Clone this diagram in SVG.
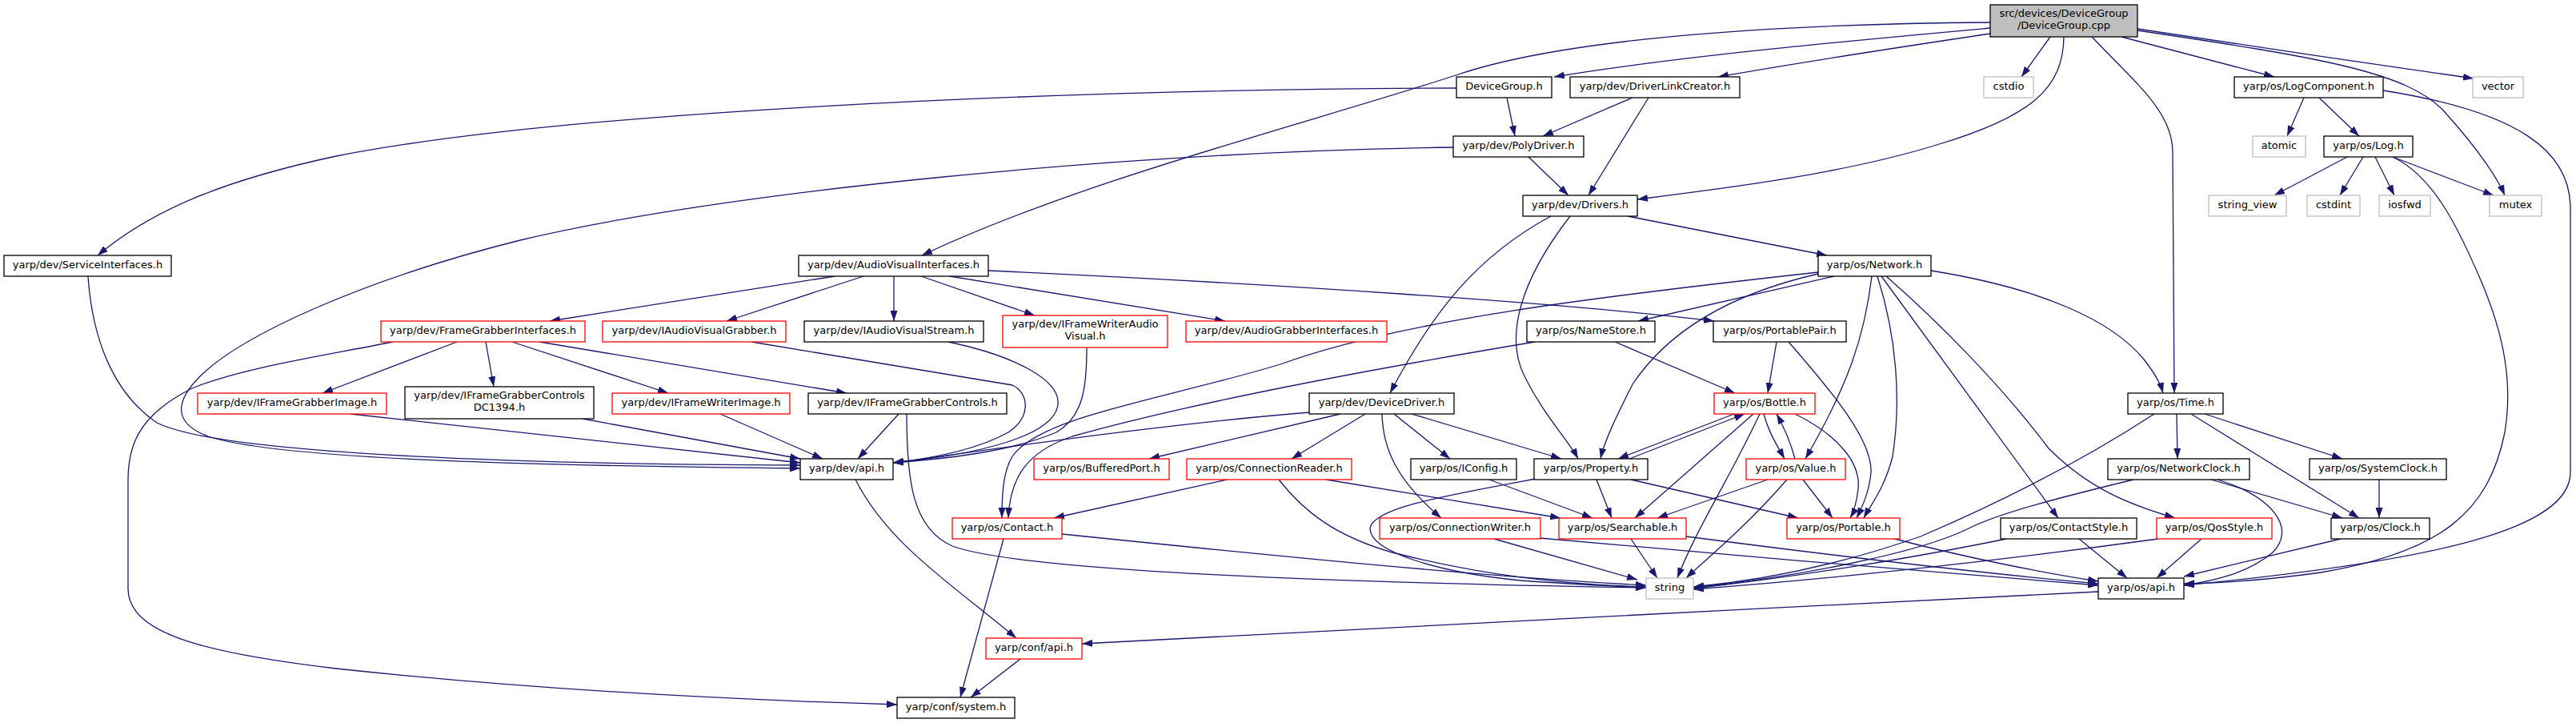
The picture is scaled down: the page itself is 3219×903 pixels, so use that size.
<svg xmlns="http://www.w3.org/2000/svg" width="3219" height="903" viewBox="0 0 3219 903">
<style>
.n rect{fill:#fff;stroke:#000;stroke-width:1.3}
.n.r rect{stroke:#ff0000}
.n.g rect{stroke:#bfbfbf}
.n.root rect{fill:#bfbfbf}
text{font-family:"DejaVu Sans","Liberation Sans",sans-serif;font-size:13px;text-anchor:middle;fill:#000}
#edges path{fill:none;stroke:#191970;stroke-width:1.3;marker-end:url(#a)}
</style>
<defs>
<marker id="a" viewBox="0 0 13 9" refX="13" refY="4.5" markerWidth="13" markerHeight="9" markerUnits="userSpaceOnUse" orient="auto"><path d="M0,0L13,4.5L0,9z" fill="#191970"/></marker>
</defs>
<rect width="3219" height="903" fill="#fff"/>
<g id="edges">
<path d="M2487,35 C2300,52 2100,70 1942,96"/>
<path d="M2487,42 C2380,58 2260,76 2147,96"/>
<path d="M2487,28 C2200,30 1950,50 1822,93 C1650,150 1350,225 1152,319"/>
<path d="M2562,46 L2526,96"/>
<path d="M2651,46 L2842,96"/>
<path d="M2671,36 C2800,55 2960,80 3091,98"/>
<path d="M2671,38 C2900,72 3010,90 3055,140 C3100,190 3122,225 3130,244"/>
<path d="M2579,46 C2578,110 2540,145 2420,181 C2300,218 2150,236 2046,249"/>
<path d="M2614,46 C2670,105 2715,140 2715,190 L2717,491"/>
<path d="M1820,110 C1300,112 700,140 420,195 C280,225 190,262 122,319"/>
<path d="M1883,122 L1893,170"/>
<path d="M2040,122 L1928,170"/>
<path d="M2060,122 L1985,244"/>
<path d="M1910,196 L1960,244"/>
<path d="M1816,184 C1400,190 900,240 650,300 C450,350 300,420 250,470 C215,505 220,530 260,545 C350,575 700,582 1000,585"/>
<path d="M110,345 C115,420 140,490 196,528 C280,570 700,580 1000,581"/>
<path d="M2034,270 L2283,319"/>
<path d="M1938,270 C1845,320 1790,390 1737,491"/>
<path d="M1962,270 C1900,350 1880,420 1905,470 C1930,520 1960,550 1972,573"/>
<path d="M1043,345 L687,401"/>
<path d="M1079,345 L908,401"/>
<path d="M1117,345 L1117,401"/>
<path d="M1151,345 L1293,394"/>
<path d="M1187,345 L1531,401"/>
<path d="M1235,338 C1600,355 1950,378 2142,401"/>
<path d="M2272,340 C2000,370 1750,400 1600,455 C1450,500 1300,520 1265,570 C1253,590 1252,620 1252,647"/>
<path d="M2292,345 L2047,401"/>
<path d="M2272,342 C2150,370 2080,420 2040,480 C2020,520 2005,550 2000,573"/>
<path d="M2339,345 C2330,420 2310,480 2256,573"/>
<path d="M2346,345 C2370,420 2376,500 2365,570 C2355,610 2338,630 2329,647"/>
<path d="M2351,345 L2572,647"/>
<path d="M2357,345 C2420,400 2500,480 2560,560 C2610,610 2660,630 2718,647"/>
<path d="M2413,338 C2550,360 2640,400 2680,450 C2695,470 2700,480 2703,491"/>
<path d="M1637,515 C1450,530 1250,560 1116,578"/>
<path d="M1675,517 L1436,573"/>
<path d="M1706,517 L1614,573"/>
<path d="M1727,517 C1728,560 1745,600 1801,647"/>
<path d="M1742,517 L1812,573"/>
<path d="M1764,517 L1951,573"/>
<path d="M1533,599 L1317,647"/>
<path d="M1657,599 L1950,647"/>
<path d="M1598,599 C1630,640 1670,670 1740,690 C1850,718 1950,730 2057,733"/>
<path d="M1919,598 C1800,620 1715,635 1712,660 C1712,690 1800,715 1900,725 C1970,730 2020,732 2057,734"/>
<path d="M1995,599 L2014,647"/>
<path d="M2038,599 L2247,647"/>
<path d="M2036,573 L2180,517"/>
<path d="M2167,517 L2022,573"/>
<path d="M1861,599 L1990,647"/>
<path d="M2191,517 L2043,647"/>
<path d="M2199,517 C2160,600 2120,660 2096,722"/>
<path d="M2204,517 C2210,540 2220,555 2230,573"/>
<path d="M2243,573 C2237,550 2230,535 2220,517"/>
<path d="M2243,517 C2300,545 2325,580 2322,610 C2320,630 2316,640 2312,647"/>
<path d="M2220,427 L2209,491"/>
<path d="M2235,427 C2290,490 2340,550 2338,590 C2336,615 2326,635 2320,647"/>
<path d="M2018,427 L2168,491"/>
<path d="M1918,427 C1750,455 1500,500 1340,545 C1280,565 1262,600 1260,647"/>
<path d="M2209,599 L2071,647"/>
<path d="M2233,599 C2180,660 2130,700 2107,722"/>
<path d="M2253,599 L2290,647"/>
<path d="M2038,673 L2071,722"/>
<path d="M2107,670 C2300,695 2500,718 2622,729"/>
<path d="M2364,672 C2450,695 2550,715 2622,726"/>
<path d="M1867,673 L2046,724"/>
<path d="M1924,672 C2150,692 2400,714 2622,731"/>
<path d="M1327,667 C1600,695 1850,720 2057,731"/>
<path d="M1254,673 L1200,871"/>
<path d="M1275,823 L1213,871"/>
<path d="M2622,739 C2200,760 1700,785 1352,804"/>
<path d="M1069,599 C1110,680 1190,730 1270,797"/>
<path d="M571,427 L403,491"/>
<path d="M607,427 L617,483"/>
<path d="M640,427 L835,491"/>
<path d="M674,427 L1058,491"/>
<path d="M491,427 C400,445 300,460 240,485 C170,520 160,560 160,600 L160,735 C160,790 250,815 420,835 C700,865 950,875 1121,880"/>
<path d="M438,517 L1000,578"/>
<path d="M728,523 L1000,573"/>
<path d="M900,517 L1028,573"/>
<path d="M1123,517 L1072,573"/>
<path d="M1133,517 C1133,600 1140,660 1190,682 C1280,715 1700,728 2057,734"/>
<path d="M939,427 L1265,481 C1285,490 1290,520 1260,540 C1220,562 1160,573 1116,578"/>
<path d="M1185,427 C1270,445 1325,475 1322,505 C1318,545 1220,568 1116,578"/>
<path d="M1358,434 C1358,480 1355,520 1320,540 C1260,565 1180,573 1116,578"/>
<path d="M2692,517 C2580,590 2470,640 2400,670 C2300,705 2200,725 2116,733"/>
<path d="M2720,517 L2721,573"/>
<path d="M2738,517 L2948,647"/>
<path d="M2755,517 L2927,573"/>
<path d="M2666,599 C2580,620 2500,640 2460,660 C2400,690 2250,720 2116,734"/>
<path d="M2763,599 L2927,647"/>
<path d="M2771,599 C2840,620 2870,660 2840,690 C2810,715 2770,725 2729,731"/>
<path d="M2973,599 L2973,647"/>
<path d="M2507,673 C2400,695 2250,720 2116,735"/>
<path d="M2598,673 L2658,722"/>
<path d="M2697,673 C2500,700 2300,722 2116,736"/>
<path d="M2751,673 L2695,722"/>
<path d="M2925,673 L2729,720"/>
<path d="M2879,122 L2858,170"/>
<path d="M2898,122 L2948,170"/>
<path d="M2978,113 C3150,140 3212,190 3212,260 L3212,590 C3212,660 3050,700 2729,731"/>
<path d="M2990,196 C3040,220 3070,280 3100,350 C3130,420 3140,480 3130,540 C3110,640 3050,690 2900,715 C2830,725 2780,728 2729,729"/>
<path d="M2933,196 L2842,244"/>
<path d="M2953,196 L2924,244"/>
<path d="M2968,196 L2992,244"/>
<path d="M2990,196 L3116,244"/>
</g>
<g id="n_root" class="n root"><rect x="2487" y="6" width="184" height="40"/><text x="2579" y="21">src/devices/DeviceGroup</text><text x="2579" y="36">/DeviceGroup.cpp</text></g>
<g id="n_DeviceGroup_h" class="n"><rect x="1820" y="96" width="119" height="26"/><text x="1879.5" y="112">DeviceGroup.h</text></g>
<g id="n_DriverLinkCreator" class="n"><rect x="1962" y="96" width="212" height="26"/><text x="2068" y="112">yarp/dev/DriverLinkCreator.h</text></g>
<g id="n_cstdio" class="n g"><rect x="2479" y="96" width="62" height="26"/><text x="2510" y="112">cstdio</text></g>
<g id="n_LogComponent" class="n"><rect x="2792" y="96" width="186" height="26"/><text x="2885" y="112">yarp/os/LogComponent.h</text></g>
<g id="n_vector" class="n g"><rect x="3090" y="96" width="63" height="26"/><text x="3121.5" y="112">vector</text></g>
<g id="n_PolyDriver" class="n"><rect x="1816" y="170" width="163" height="26"/><text x="1897.5" y="186">yarp/dev/PolyDriver.h</text></g>
<g id="n_atomic" class="n g"><rect x="2815" y="170" width="66" height="26"/><text x="2848" y="186">atomic</text></g>
<g id="n_Log" class="n"><rect x="2904" y="170" width="111" height="26"/><text x="2959.5" y="186">yarp/os/Log.h</text></g>
<g id="n_Drivers" class="n"><rect x="1903" y="244" width="143" height="26"/><text x="1974.5" y="260">yarp/dev/Drivers.h</text></g>
<g id="n_string_view" class="n g"><rect x="2760" y="244" width="97" height="26"/><text x="2808.5" y="260">string_view</text></g>
<g id="n_cstdint" class="n g"><rect x="2883" y="244" width="66" height="26"/><text x="2916" y="260">cstdint</text></g>
<g id="n_iosfwd" class="n g"><rect x="2973" y="244" width="64" height="26"/><text x="3005" y="260">iosfwd</text></g>
<g id="n_mutex" class="n g"><rect x="3111" y="244" width="65" height="26"/><text x="3143.5" y="260">mutex</text></g>
<g id="n_ServiceInterfaces" class="n"><rect x="5" y="319" width="209" height="26"/><text x="109.5" y="335">yarp/dev/ServiceInterfaces.h</text></g>
<g id="n_AudioVisualInterfaces" class="n"><rect x="998" y="319" width="237" height="26"/><text x="1116.5" y="335">yarp/dev/AudioVisualInterfaces.h</text></g>
<g id="n_Network" class="n"><rect x="2272" y="319" width="141" height="26"/><text x="2342.5" y="335">yarp/os/Network.h</text></g>
<g id="n_FrameGrabberInterfaces" class="n r"><rect x="476" y="401" width="255" height="26"/><text x="603.5" y="417">yarp/dev/FrameGrabberInterfaces.h</text></g>
<g id="n_IAudioVisualGrabber" class="n r"><rect x="753" y="401" width="229" height="26"/><text x="867.5" y="417">yarp/dev/IAudioVisualGrabber.h</text></g>
<g id="n_IAudioVisualStream" class="n"><rect x="1005" y="401" width="224" height="26"/><text x="1117" y="417">yarp/dev/IAudioVisualStream.h</text></g>
<g id="n_IFrameWriterAudioVisual" class="n r"><rect x="1253" y="394" width="206" height="40"/><text x="1356" y="409">yarp/dev/IFrameWriterAudio</text><text x="1356" y="424">Visual.h</text></g>
<g id="n_AudioGrabberInterfaces" class="n r"><rect x="1482" y="401" width="251" height="26"/><text x="1607.5" y="417">yarp/dev/AudioGrabberInterfaces.h</text></g>
<g id="n_NameStore" class="n"><rect x="1908" y="401" width="160" height="26"/><text x="1988" y="417">yarp/os/NameStore.h</text></g>
<g id="n_PortablePair" class="n"><rect x="2141" y="401" width="166" height="26"/><text x="2224" y="417">yarp/os/PortablePair.h</text></g>
<g id="n_IFrameGrabberImage" class="n r"><rect x="247" y="491" width="236" height="26"/><text x="365" y="507">yarp/dev/IFrameGrabberImage.h</text></g>
<g id="n_IFrameGrabberControlsDC1394" class="n"><rect x="506" y="483" width="236" height="40"/><text x="624" y="498">yarp/dev/IFrameGrabberControls</text><text x="624" y="513">DC1394.h</text></g>
<g id="n_IFrameWriterImage" class="n r"><rect x="765" y="491" width="222" height="26"/><text x="876" y="507">yarp/dev/IFrameWriterImage.h</text></g>
<g id="n_IFrameGrabberControls" class="n"><rect x="1010" y="491" width="248" height="26"/><text x="1134" y="507">yarp/dev/IFrameGrabberControls.h</text></g>
<g id="n_DeviceDriver" class="n"><rect x="1636" y="491" width="181" height="26"/><text x="1726.5" y="507">yarp/dev/DeviceDriver.h</text></g>
<g id="n_Bottle" class="n r"><rect x="2142" y="491" width="126" height="26"/><text x="2205" y="507">yarp/os/Bottle.h</text></g>
<g id="n_Time" class="n"><rect x="2659" y="491" width="119" height="26"/><text x="2718.5" y="507">yarp/os/Time.h</text></g>
<g id="n_dev_api" class="n"><rect x="1000" y="573" width="116" height="26"/><text x="1058" y="589">yarp/dev/api.h</text></g>
<g id="n_BufferedPort" class="n r"><rect x="1292" y="573" width="169" height="26"/><text x="1376.5" y="589">yarp/os/BufferedPort.h</text></g>
<g id="n_ConnectionReader" class="n r"><rect x="1483" y="573" width="206" height="26"/><text x="1586" y="589">yarp/os/ConnectionReader.h</text></g>
<g id="n_IConfig" class="n"><rect x="1763" y="573" width="132" height="26"/><text x="1829" y="589">yarp/os/IConfig.h</text></g>
<g id="n_Property" class="n"><rect x="1917" y="573" width="142" height="26"/><text x="1988" y="589">yarp/os/Property.h</text></g>
<g id="n_Value" class="n r"><rect x="2182" y="573" width="124" height="26"/><text x="2244" y="589">yarp/os/Value.h</text></g>
<g id="n_NetworkClock" class="n"><rect x="2634" y="573" width="177" height="26"/><text x="2722.5" y="589">yarp/os/NetworkClock.h</text></g>
<g id="n_SystemClock" class="n"><rect x="2886" y="573" width="171" height="26"/><text x="2971.5" y="589">yarp/os/SystemClock.h</text></g>
<g id="n_Contact" class="n r"><rect x="1190" y="647" width="137" height="26"/><text x="1258.5" y="663">yarp/os/Contact.h</text></g>
<g id="n_ConnectionWriter" class="n r"><rect x="1724" y="647" width="201" height="26"/><text x="1824.5" y="663">yarp/os/ConnectionWriter.h</text></g>
<g id="n_Searchable" class="n r"><rect x="1948" y="647" width="159" height="26"/><text x="2027.5" y="663">yarp/os/Searchable.h</text></g>
<g id="n_Portable" class="n r"><rect x="2233" y="647" width="141" height="26"/><text x="2303.5" y="663">yarp/os/Portable.h</text></g>
<g id="n_ContactStyle" class="n"><rect x="2500" y="647" width="170" height="26"/><text x="2585" y="663">yarp/os/ContactStyle.h</text></g>
<g id="n_QosStyle" class="n r"><rect x="2695" y="647" width="144" height="26"/><text x="2767" y="663">yarp/os/QosStyle.h</text></g>
<g id="n_Clock" class="n"><rect x="2913" y="647" width="123" height="26"/><text x="2974.5" y="663">yarp/os/Clock.h</text></g>
<g id="n_string" class="n g"><rect x="2057" y="722" width="59" height="26"/><text x="2086.5" y="738">string</text></g>
<g id="n_os_api" class="n"><rect x="2622" y="722" width="107" height="26"/><text x="2675.5" y="738">yarp/os/api.h</text></g>
<g id="n_conf_api" class="n r"><rect x="1232" y="797" width="120" height="26"/><text x="1292" y="813">yarp/conf/api.h</text></g>
<g id="n_conf_system" class="n"><rect x="1121" y="871" width="147" height="26"/><text x="1194.5" y="887">yarp/conf/system.h</text></g>
</svg>
